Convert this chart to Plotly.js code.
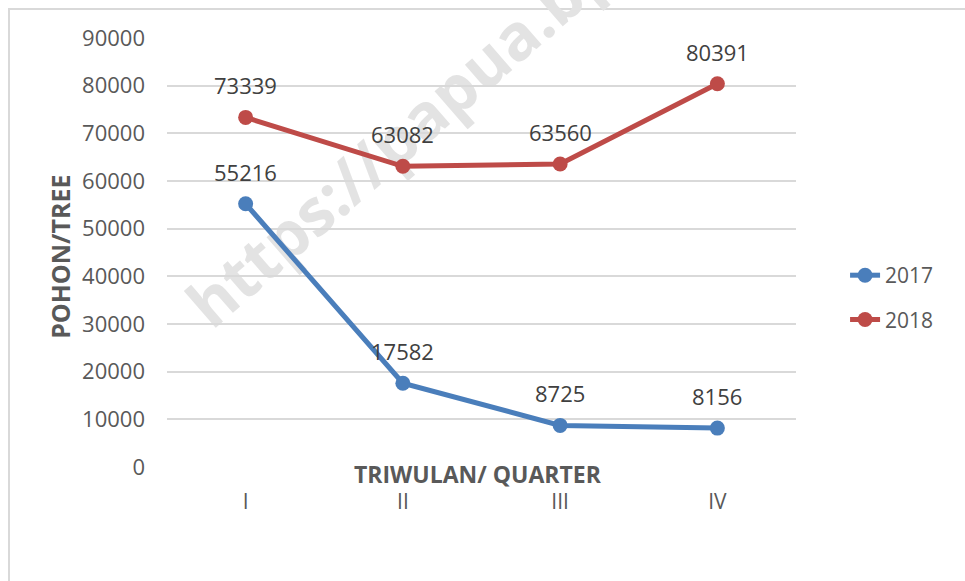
<!DOCTYPE html>
<html>
<head>
<meta charset="utf-8">
<script src="https://cdn.plot.ly/plotly-3.0.1.min.js"></script>
<style>
  body { margin: 0; background: #ffffff; }
  #frame { position: absolute; left: 8px; top: 8px; width: 980px; height: 600px;
           border-left: 2px solid #d9d9d9; border-top: 2px solid #d9d9d9; }
  #mark { position: absolute; left: 196px; top: 269px; line-height: 66px;
          font: bold 64px "Open Sans", sans-serif; color: #e3e3e3; white-space: nowrap;
          transform-origin: 0 50%; transform: rotate(-41deg); }
  #chart { position: absolute; left: 0; top: 0; width: 965px; height: 581px; }
</style>
</head>
<body>
<div id="frame"></div>
<div id="mark">https://papua.bps.go.id</div>
<div id="chart"></div>
<script>
const quarters = ["I", "II", "III", "IV"]
const years = ["2017", "2018"]
const trees_2017 = [55216, 17582, 8725, 8156]
const trees_2018 = [73339, 63082, 63560, 80391]
const colors = ["#4a7ebb", "#be4b48"]

const series = [trees_2017, trees_2018]

const data = series.map((vals, i) => ({
  x: quarters,
  y: vals,
  type: "scatter",
  mode: "lines+markers",
  name: years[i],
  legendgroup: years[i],
  line: { color: colors[i], width: 5 },
  marker: { color: colors[i], size: 15 },
}))

// value labels sit a fixed distance above each point, like the Excel original
const labels = series.flatMap((vals) =>
  vals.map((v, j) => ({
    x: quarters[j],
    y: v,
    text: String(v),
    showarrow: false,
    yshift: 32,
    font: { size: 22, color: "#404040" },
  }))
)

const gray = "#595959"

const layout = {
  width: 965,
  height: 581,
  margin: { l: 167, r: 169, t: 38, b: 114 },
  paper_bgcolor: "rgba(0,0,0,0)",
  plot_bgcolor: "rgba(0,0,0,0)",
  font: { family: "Open Sans, sans-serif", size: 21, color: gray },
  showlegend: true,
  legend: {
    x: 1.078,
    y: 0.395,
    yanchor: "middle",
    xanchor: "left",
    traceorder: "grouped",
    tracegroupgap: 14,
    font: { size: 21, color: gray },
  },
  xaxis: {
    type: "category",
    range: [-0.5, 3.5],
    showgrid: false,
    showline: false,
    zeroline: false,
    ticks: "",
    ticklabelstandoff: 20,
    tickfont: { size: 21, color: gray },
  },
  yaxis: {
    range: [0, 90000],
    dtick: 10000,
    tickformat: "d",
    showgrid: true,
    gridcolor: "#d9d9d9",
    gridwidth: 2,
    zeroline: false,
    showline: false,
    ticks: "",
    ticklabelstandoff: 21,
    tickfont: { size: 22, color: gray },
  },
  annotations: [
    ...labels,
    {
      text: "<b>TRIWULAN/ QUARTER</b>",
      xref: "paper",
      yref: "paper",
      x: 0.495,
      y: -0.017,
      xanchor: "center",
      yanchor: "middle",
      showarrow: false,
      font: { size: 23, color: gray },
    },
    {
      text: "<b>POHON/TREE</b>",
      xref: "paper",
      yref: "paper",
      x: -0.17,
      y: 0.49,
      xanchor: "center",
      yanchor: "middle",
      textangle: -90,
      showarrow: false,
      font: { size: 25, color: gray },
    },
  ],
}

Plotly.newPlot("chart", data, layout, { displayModeBar: false })
</script>
</body>
</html>
